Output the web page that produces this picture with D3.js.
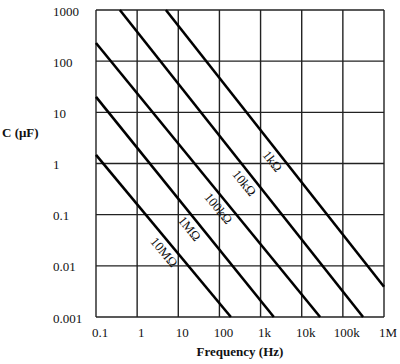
<!DOCTYPE html>
<html>
<head>
<meta charset="utf-8">
<script src="https://cdn.jsdelivr.net/npm/d3@7"></script>
<style>
  body { margin: 0; background: #fff; }
  text { font-family: "Liberation Serif", "DejaVu Serif", serif; fill: #111; }
</style>
</head>
<body>
<div id="chart"></div>
<script>
// tick values / labels
var freqTicks = [0.1, 1, 10, 100, 1e3, 1e4, 1e5, 1e6];
var freqLabels = ["0.1", "1", "10", "100", "1k", "10k", "100k", "1M"];
var capTicks = [0.001, 0.01, 0.1, 1, 10, 100, 1000];
var capLabels = ["0.001", "0.01", "0.1", "1", "10", "100", "1000"];

// resistor lines, end points [freq Hz, C uF]
var resistors = ["1k\u03A9", "10k\u03A9", "100k\u03A9", "1M\u03A9", "10M\u03A9"];
var lineStart = [[5.0, 1000], [0.38, 1000], [0.1, 226], [0.1, 20], [0.1, 1.47]];
var lineEnd = [[1e6, 0.0039], [3.1e5, 0.001], [2.8e4, 0.001], [2.1e3, 0.001], [190, 0.001]];
// frequency where each label sits along its line
var labelFreq = [3000, 620, 145, 29, 6.9];

var width = 400, height = 364;
var svg = d3.select("#chart").append("svg").attr("width", width).attr("height", height);

var x = d3.scaleLog().domain([0.1, 1e6]).range([96, 384]);
var y = d3.scaleLog().domain([0.001, 1000]).range([317, 10]);

// grid
var grid = svg.append("g").attr("stroke", "#222").attr("stroke-width", 1.4);
grid.selectAll("line.v").data(freqTicks).enter().append("line")
  .attr("class", "v")
  .attr("x1", function(d) { return x(d); }).attr("x2", function(d) { return x(d); })
  .attr("y1", y(1000)).attr("y2", y(0.001));
grid.selectAll("line.h").data(capTicks).enter().append("line")
  .attr("class", "h")
  .attr("x1", x(0.1)).attr("x2", x(1e6))
  .attr("y1", function(d) { return y(d); }).attr("y2", function(d) { return y(d); });

// tick labels
svg.append("g").selectAll("text").data(freqTicks).enter().append("text")
  .attr("x", function(d) { return x(d) + 4; })
  .attr("y", 337)
  .attr("text-anchor", "middle")
  .style("font-size", "13px")
  .text(function(d, i) { return freqLabels[i]; });

svg.append("g").selectAll("text").data(capTicks).enter().append("text")
  .attr("x", 53)
  .attr("y", function(d) { return y(d) + 1; })
  .attr("dy", "0.35em")
  .style("font-size", "13px")
  .text(function(d, i) { return capLabels[i]; });

// axis titles
svg.append("text").attr("x", 2).attr("y", 137)
  .style("font-size", "13px").style("font-weight", "bold")
  .text("C (\u03BCF)");
svg.append("text").attr("x", 240).attr("y", 356)
  .attr("text-anchor", "middle")
  .style("font-size", "13px").style("font-weight", "bold")
  .text("Frequency (Hz)");

// resistor lines
var lg = svg.append("g");
resistors.forEach(function(r, i) {
  var p0 = lineStart[i], p1 = lineEnd[i];
  var x0 = x(p0[0]), y0 = y(p0[1]), x1 = x(p1[0]), y1 = y(p1[1]);
  lg.append("line")
    .attr("x1", x0).attr("y1", y0).attr("x2", x1).attr("y2", y1)
    .attr("stroke", "#000").attr("stroke-width", 2.6);

  var ang = Math.atan2(y1 - y0, x1 - x0) * 180 / Math.PI;
  var lx = x(labelFreq[i]);
  var ly = y0 + (lx - x0) * (y1 - y0) / (x1 - x0);
  lg.append("text")
    .attr("transform", "translate(" + lx + "," + ly + ") rotate(" + ang + ")")
    .attr("text-anchor", "middle")
    .attr("dy", "1.1em")
    .style("font-size", "13px")
    .text(r);
});
</script>
</body>
</html>
